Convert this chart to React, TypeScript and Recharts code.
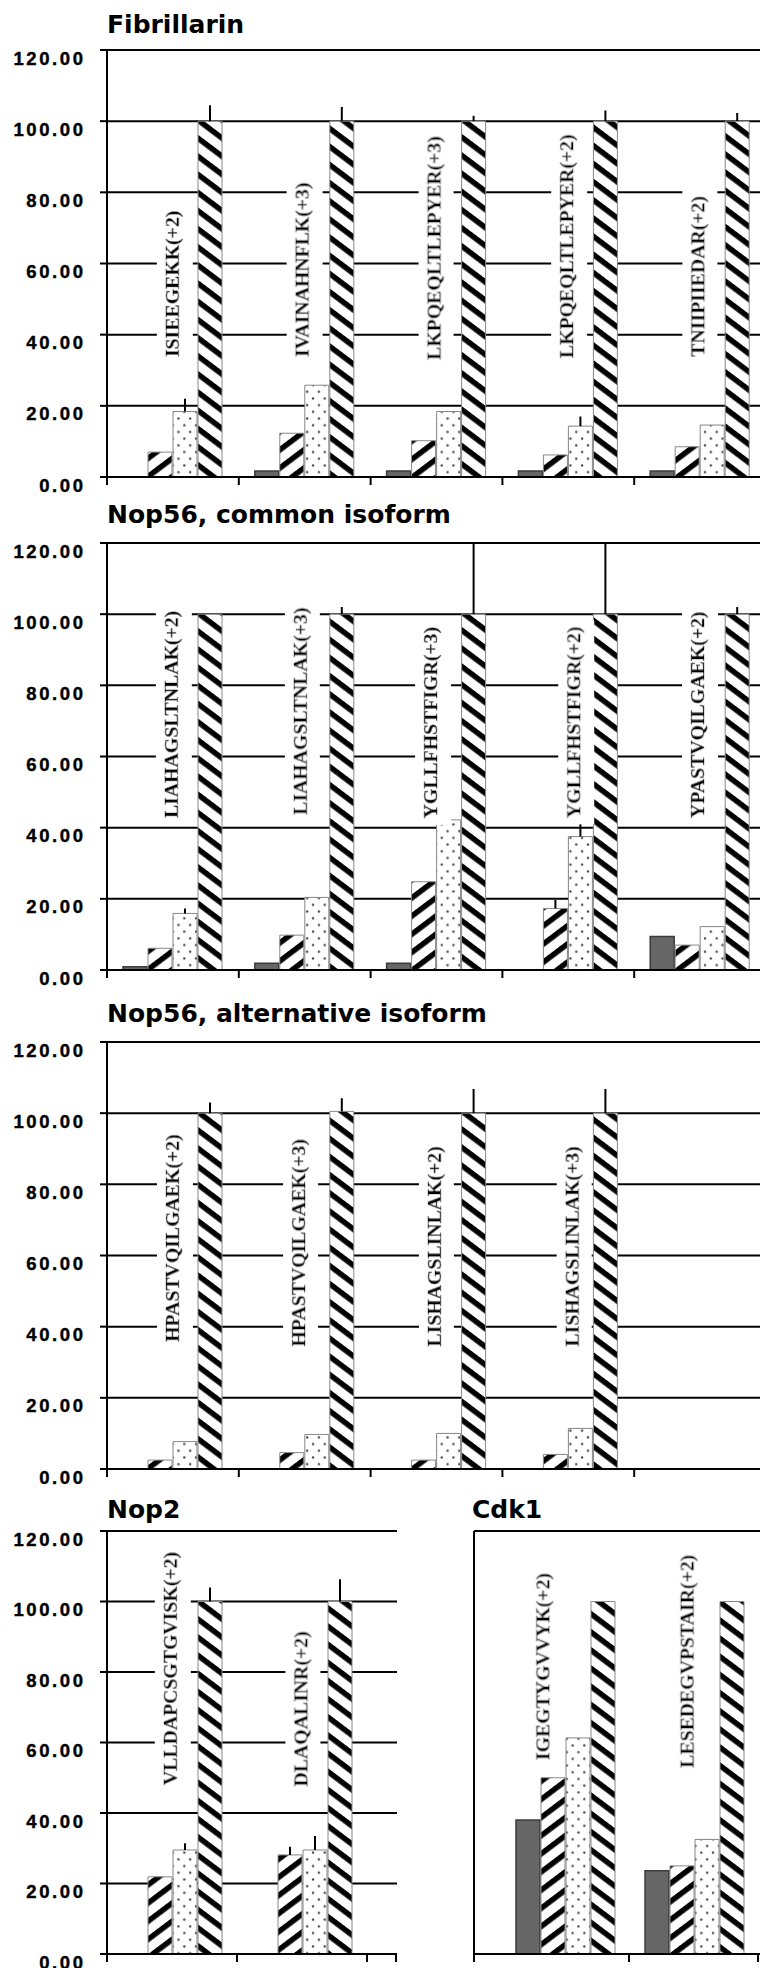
import React from 'react';
import { BarChart, Bar, XAxis, YAxis, CartesianGrid, ErrorBar, ReferenceDot } from 'recharts';

const yTicks = [0, 20, 40, 60, 80, 100, 120];

// Fibrillarin
const fibPeptides = ['ISIEEGEKK(+2)', 'IVAINAHNFLK(+3)', 'LKPQEQLTLEPYER(+3)', 'LKPQEQLTLEPYER(+2)', 'TNIIPIIEDAR(+2)'];
const fibA = [0, 1.7, 1.7, 1.7, 1.7];
const fibB = [7.0, 12.3, 10.2, 6.2, 8.5];
const fibC = [18.4, 25.8, 18.4, 14.3, 14.6];
const fibD = [100, 100, 100, 100, 100];
const fibErrB = [0, 0, 0, 0, 0];
const fibErrC = [3.6, 0, 0, 2.7, 0];
const fibErrD = [4.5, 4, 1.5, 3, 2.3];
const fibLabelAt = [33.7, 33.7, 32.9, 33.4, 33.8];

// Nop56, common isoform
const ncPeptides = ['LIAHAGSLTNLAK(+2)', 'LIAHAGSLTNLAK(+3)', 'YGLLFHSTFIGR(+3)', 'YGLLFHSTFIGR(+2)', 'YPASTVQILGAEK(+2)'];
const ncA = [0.9, 1.9, 1.9, 0, 9.4];
const ncB = [6.1, 9.8, 24.8, 17.3, 7.0];
const ncC = [15.9, 20.4, 42.2, 37.5, 12.2];
const ncD = [100, 100, 100, 100, 100];
const ncErrB = [0, 0, 0, 2.4, 0];
const ncErrC = [1.4, 0, 3.7, 9.4, 0];
const ncErrD = [0, 2, 20, 20, 2];
const ncLabelAt = [42.7, 43.6, 42.6, 42.7, 42.7];

// Nop56, alternative isoform (last slot is empty)
const naPeptides = ['HPASTVQILGAEK(+2)', 'HPASTVQILGAEK(+3)', 'LISHAGSLINLAK(+2)', 'LISHAGSLINLAK(+3)', ''];
const naA = [0, 0, 0, 0, null];
const naB = [2.5, 4.6, 2.5, 4.1, null];
const naC = [7.7, 9.7, 10.0, 11.4, null];
const naD = [100, 100.5, 100, 100, null];
const naErrB = [0, 0, 0, 0, 0];
const naErrC = [0, 0, 0, 0, 0];
const naErrD = [3, 3.7, 6.8, 6.8, 0];
const naLabelAt = [35.7, 34.4, 34.4, 34.4, 0];

// Nop2
const n2Peptides = ['VLLDAPCSGTGVISK(+2)', 'DLAQALINR(+2)'];
const n2A = [0, 0];
const n2B = [21.9, 28.1];
const n2C = [29.5, 29.5];
const n2D = [100, 100];
const n2ErrB = [0, 2.3];
const n2ErrC = [1.9, 4];
const n2ErrD = [4, 6.3];
const n2LabelAt = [47.9, 47.5];

// Cdk1
const cdkPeptides = ['IGEGTYGVVYK(+2)', 'LESEDEGVPSTAIR(+2)'];
const cdkA = [38.0, 23.6];
const cdkB = [50.0, 25.0];
const cdkC = [61.3, 32.5];
const cdkD = [100, 100];
const cdkErrB = [0, 0];
const cdkErrC = [0, 0];
const cdkErrD = [0, 0];
const cdkLabelAt = [55.0, 52.8];

type Row = { name: string; s1: number | null; s2: number | null; s3: number | null; s4: number | null; e2: number[]; e3: number[]; e4: number[] };

function rows(names: string[], a: (number | null)[], b: (number | null)[], c: (number | null)[], d: (number | null)[], eb: number[], ec: number[], ed: number[]): Row[] {
  return names.map((name, i) => ({
    name, s1: a[i], s2: b[i], s3: c[i], s4: d[i],
    e2: [0, eb[i]], e3: [0, ec[i]], e4: [0, ed[i]],
  }));
}

const serif = "'Liberation Serif', 'Times New Roman', serif";
const sans = "'Liberation Sans', Arial, sans-serif";

function PeptideLabel({ cx, cy, text, filterId }: { cx: number; cy: number; text: string; filterId: string }) {
  return (
    <text
      x={cx}
      y={cy}
      transform={`rotate(-90 ${cx} ${cy})`}
      dominantBaseline="central"
      filter={`url(#${filterId})`}
      fontFamily={serif}
      fontWeight="bold"
      fontSize={19.8}
      fill="#000"
      stroke="#000"
      strokeWidth={0.45}
    >
      {text}
    </text>
  );
}

type PanelProps = {
  id: string;
  title: string;
  titleLeft: number;
  titleTop: number;
  data: Row[];
  labelAt: number[];
  labelShift: number[];
  left: number;
  top: number;
  width: number;
  plotHeight: number;
  axisWidth: number;
  showYLabels: boolean;
  padLeft: number;
  padRight: number;
  marginRight: number;
  endTick?: boolean;
};

function Panel(p: PanelProps) {
  const plotWidth = p.width - p.axisWidth - p.marginRight;
  const half = (plotWidth - p.padLeft - p.padRight) / p.data.length / 2;
  const plotRight = p.axisWidth + plotWidth;

  const xTick = (t: any) => (
    <g>
      {t.index === 0 && <line x1={p.axisWidth} x2={p.axisWidth} y1={t.y} y2={t.y + 8} stroke="#000" strokeWidth={2} />}
      <line x1={t.x + half} x2={t.x + half} y1={t.y} y2={t.y + 8} stroke="#000" strokeWidth={2} />
      {p.endTick && t.index === p.data.length - 1 && (
        <line x1={plotRight - 1} x2={plotRight - 1} y1={t.y} y2={t.y + 8} stroke="#000" strokeWidth={2} />
      )}
    </g>
  );

  const yTick = (t: any) => (
    <text
      x={t.x}
      y={t.y + 8}
      dy="0.36em"
      textAnchor="end"
      fontFamily={sans}
      fontWeight="bold"
      fontSize={18.5}
      letterSpacing={2.6}
      fill="#000"
      stroke="#000"
      strokeWidth={0.4}
    >
      {Number(t.payload.value).toFixed(2)}
    </text>
  );

  return (
    <>
      <div
        style={{
          position: 'absolute', left: p.titleLeft, top: p.titleTop, fontFamily: "'DejaVu Sans', Verdana, sans-serif",
          fontWeight: 'bold', fontSize: 25, lineHeight: '25px', whiteSpace: 'nowrap', color: '#000',
        }}
      >
        {p.title}
      </div>
      <div style={{ position: 'absolute', left: p.left, top: p.top }}>
        <BarChart
          width={p.width}
          height={p.plotHeight + 30}
          data={p.data}
          margin={{ top: 10, right: p.marginRight, bottom: 0, left: 0 }}
          barCategoryGap={16}
          barGap={1}
        >
          <defs>
            <pattern id={`${p.id}-fwd`} patternUnits="userSpaceOnUse" width="20" height="14.5" patternTransform="rotate(-37)">
              <rect width="20" height="14.5" fill="#fff" />
              <rect width="20" height="5.5" fill="#000" />
            </pattern>
            <pattern id={`${p.id}-back`} patternUnits="userSpaceOnUse" width="20" height="14.5" patternTransform="rotate(37)">
              <rect width="20" height="14.5" fill="#fff" />
              <rect width="20" height="5.5" fill="#000" />
            </pattern>
            <pattern id={`${p.id}-dots`} patternUnits="userSpaceOnUse" width="11.7" height="13.4">
              <rect width="11.7" height="13.4" fill="#fff" />
              <circle cx="3" cy="3.3" r="1.2" fill="#444" />
              <circle cx="8.85" cy="10" r="1.2" fill="#444" />
            </pattern>
            <filter id={`${p.id}-wbg`} x="-0.03" y="-0.15" width="1.06" height="1.5">
              <feFlood floodColor="#fff" result="bg" />
              <feMerge>
                <feMergeNode in="bg" />
                <feMergeNode in="SourceGraphic" />
              </feMerge>
            </filter>
          </defs>
          <CartesianGrid vertical={false} stroke="#000" strokeWidth={2} />
          <XAxis
            dataKey="name"
            height={20}
            interval={0}
            tickLine={false}
            tickSize={0}
            tickMargin={0}
            axisLine={{ stroke: '#000', strokeWidth: 2 }}
            tick={xTick}
            padding={{ left: p.padLeft, right: p.padRight }}
          />
          <YAxis
            width={p.axisWidth}
            domain={[0, 120]}
            ticks={yTicks}
            interval={0}
            allowDataOverflow
            tickSize={7}
            tickMargin={14.4}
            tickLine={{ stroke: '#000', strokeWidth: 2 }}
            axisLine={{ stroke: '#000', strokeWidth: 2 }}
            tick={p.showYLabels ? yTick : false}
          />
          <Bar dataKey="s1" fill="#666" stroke="#3c3c3c" strokeWidth={1.5} isAnimationActive={false} />
          <Bar dataKey="s2" fill={`url(#${p.id}-fwd)`} stroke="#888" strokeWidth={1} isAnimationActive={false}>
            <ErrorBar dataKey="e2" width={0} stroke="#000" strokeWidth={2} isAnimationActive={false} />
          </Bar>
          <Bar dataKey="s3" fill={`url(#${p.id}-dots)`} stroke="#888" strokeWidth={1} isAnimationActive={false}>
            <ErrorBar dataKey="e3" width={0} stroke="#000" strokeWidth={2} isAnimationActive={false} />
          </Bar>
          <Bar dataKey="s4" fill={`url(#${p.id}-back)`} stroke="#888" strokeWidth={1} isAnimationActive={false}>
            <ErrorBar dataKey="e4" width={0} stroke="#000" strokeWidth={2} isAnimationActive={false} />
          </Bar>
          {p.data.map((row, i) =>
            row.name ? (
              <ReferenceDot
                key={row.name}
                x={row.name}
                y={p.labelAt[i]}
                r={0}
                ifOverflow="visible"
                shape={(sp: any) => (
                  <PeptideLabel cx={sp.cx + p.labelShift[i]} cy={sp.cy} text={row.name} filterId={`${p.id}-wbg`} />
                )}
              />
            ) : null
          )}
        </BarChart>
      </div>
    </>
  );
}

export default function App() {
  return (
    <div style={{ position: 'absolute', left: 0, top: 0, width: 760, height: 1968, overflow: 'hidden', background: '#fff' }}>
      <Panel
        id="fib" title="Fibrillarin" titleLeft={107} titleTop={12}
        data={rows(fibPeptides, fibA, fibB, fibC, fibD, fibErrB, fibErrC, fibErrD)}
        labelAt={fibLabelAt} labelShift={[-1, -3, -3, -2, -3]}
        left={0} top={40} width={770} plotHeight={427} axisWidth={107} showYLabels
        padLeft={0} padRight={0} marginRight={4}
      />
      <Panel
        id="nc" title="Nop56, common isoform" titleLeft={107} titleTop={502}
        data={rows(ncPeptides, ncA, ncB, ncC, ncD, ncErrB, ncErrC, ncErrD)}
        labelAt={ncLabelAt} labelShift={[-2, -5, -6, 5, -3]}
        left={0} top={533} width={770} plotHeight={427} axisWidth={107} showYLabels
        padLeft={0} padRight={0} marginRight={4}
      />
      <Panel
        id="na" title="Nop56, alternative isoform" titleLeft={107} titleTop={1001}
        data={rows(naPeptides, naA, naB, naC, naD, naErrB, naErrC, naErrD)}
        labelAt={naLabelAt} labelShift={[-1, -7, -3, 3, 0]}
        left={0} top={1032} width={770} plotHeight={427} axisWidth={107} showYLabels
        padLeft={0} padRight={0} marginRight={4}
      />
      <Panel
        id="n2" title="Nop2" titleLeft={107} titleTop={1497}
        data={rows(n2Peptides, n2A, n2B, n2C, n2D, n2ErrB, n2ErrC, n2ErrD)}
        labelAt={n2LabelAt} labelShift={[-2, -2]}
        left={0} top={1521} width={402} plotHeight={423} axisWidth={107} showYLabels
        padLeft={0} padRight={30} marginRight={5} endTick
      />
      <Panel
        id="cdk" title="Cdk1" titleLeft={472} titleTop={1497}
        data={rows(cdkPeptides, cdkA, cdkB, cdkC, cdkD, cdkErrB, cdkErrC, cdkErrD)}
        labelAt={cdkLabelAt} labelShift={[-22, -7]}
        left={400} top={1521} width={384} plotHeight={423} axisWidth={74} showYLabels={false}
        padLeft={26} padRight={22} marginRight={4}
      />
    </div>
  );
}
